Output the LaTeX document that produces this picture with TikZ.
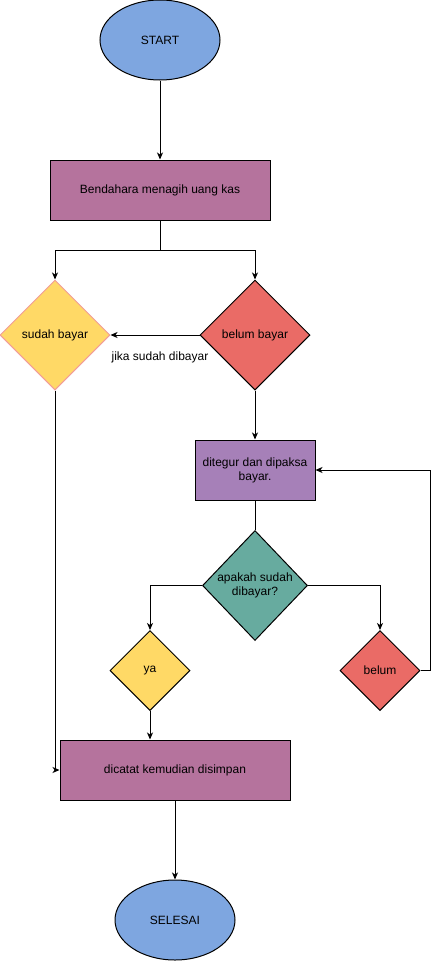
\documentclass[tikz,border=0pt]{standalone}
\usepackage{fontspec}
\setmainfont{Liberation Sans}
\usepackage{xcolor}
\usetikzlibrary{shapes.geometric}
\usetikzlibrary{arrows.meta}
\definecolor{startblue}{HTML}{7EA6E0}
\definecolor{boxpink}{HTML}{B5739D}
\definecolor{boxpurple}{HTML}{A680B8}
\definecolor{dyellow}{HTML}{FFD966}
\definecolor{dred}{HTML}{EA6B66}
\definecolor{dgreen}{HTML}{67AB9F}
\definecolor{softred}{HTML}{F19C99}
\tikzset{terminal/.style={ellipse,draw,fill=startblue,minimum width=120pt,minimum height=80pt,inner sep=0pt},
 process/.style={rectangle,draw,minimum height=60pt,inner sep=0pt,align=center},
 choice/.style={diamond,draw,inner sep=0pt,align=center},
 flow/.style={-{Stealth[length=7pt,width=6pt,inset=2pt]}},
 }

\begin{document}
\begin{tikzpicture}[x=1pt,y=-1pt,line width=1pt,font=\fontsize{12}{14}\selectfont]
        \useasboundingbox (0,0) rectangle (439,961);
        \node[terminal] (start) at (160,40) {START};
        \node[process, fill=boxpink, minimum width=220pt] (tagih) at (160,190) {Bendahara menagih uang kas};
        \node[choice, fill=dyellow, draw=softred, minimum width=110pt, minimum height=110pt] (sudah) at (55,335) {sudah bayar};
        \node[choice, fill=dred, minimum width=110pt, minimum height=110pt] (belum) at (255,335) {belum bayar};
        \node[process, fill=boxpurple, minimum width=120pt] (tegur) at (255,470) {ditegur dan dipaksa\\bayar.};
        \node[choice, fill=dgreen, minimum width=105pt, minimum height=110pt] (tanya) at (255,585.5) {apakah sudah\\dibayar?};
        \node[choice, fill=dyellow, minimum width=80pt, minimum height=80pt] (ya) at (150,670.5) {ya};
        \node[choice, fill=dred, minimum width=80pt, minimum height=80pt] (tidak) at (380,670.5) {belum};
        \node[process, fill=boxpink, minimum width=230pt] (catat) at (175,770) {dicatat kemudian disimpan};
        \node[terminal] (selesai) at (175,920) {SELESAI};
        \coordinate (cabang) at (160,250);
        \coordinate (putar) at (430,470);

        \draw[flow] (start) -- (tagih);
        \draw (tagih) -- (cabang);
        \draw[flow] (cabang) -| (sudah.north);
        \draw[flow] (cabang) -| (belum.north);
        \draw[flow] (belum.west) -- node[pos=0.444, below=13pt] {jika sudah dibayar} (sudah.east);
        \draw[flow] (belum) -- (tegur);
        \draw (tegur) -- (tanya);
        \draw[flow] (tanya.west) -| (ya.north);
        \draw[flow] (tanya.east) -| (tidak.north);
        \draw (tidak.east) -| (putar);
        \draw[flow] (putar) -- (tegur.east);
        \draw[flow] (ya.south) -- (ya.south |- catat.north);
        \draw[flow] (sudah.south) |- (catat.west);
        \draw[flow] (catat) -- (selesai);
    \end{tikzpicture}
\end{document}
